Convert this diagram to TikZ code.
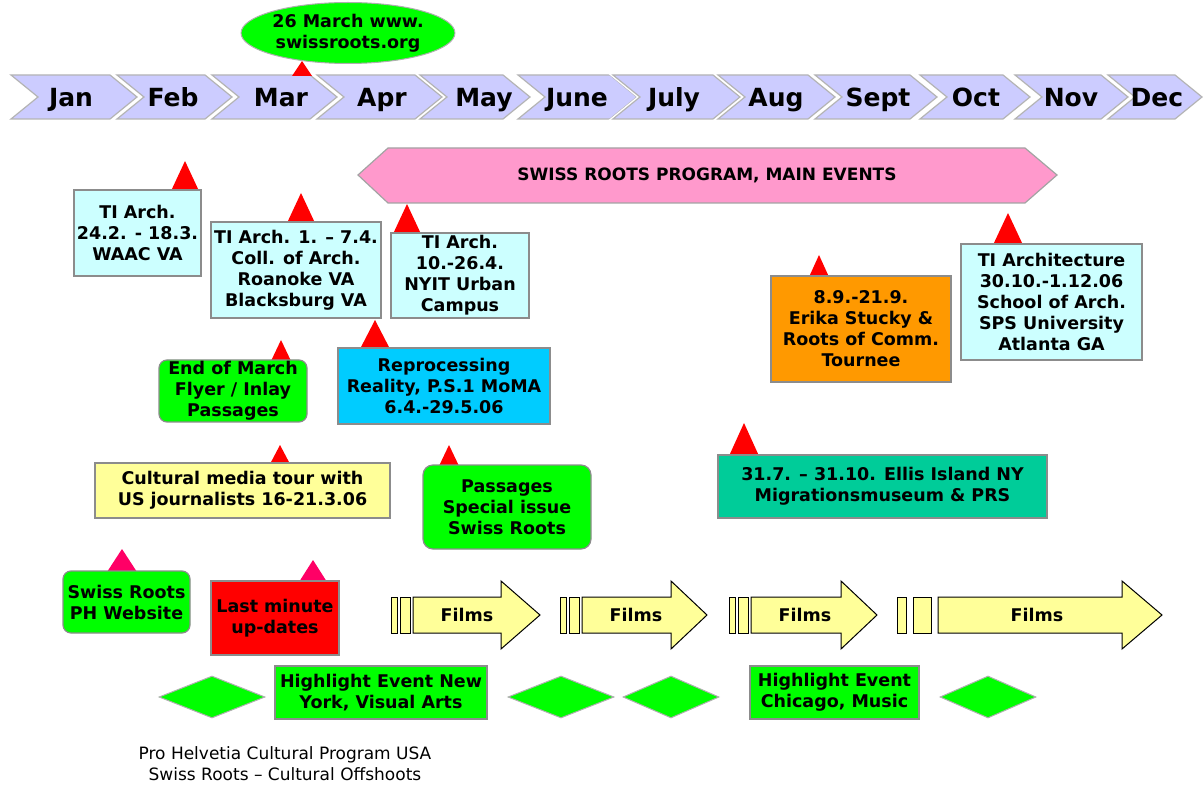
\documentclass[tikz,border=0pt]{standalone}
\usepackage{fontspec}
\setmainfont{DejaVu Sans}
\usetikzlibrary{shapes.geometric}
\definecolor{monthc}{HTML}{CCCCFF}
\definecolor{monthb}{HTML}{B4B4B4}
\definecolor{boxb}{HTML}{8C8C8C}
\definecolor{cyanc}{HTML}{CCFFFF}
\definecolor{greenc}{HTML}{00FF00}
\definecolor{bluec}{HTML}{00CCFF}
\definecolor{yellowc}{HTML}{FFFF99}
\definecolor{orangec}{HTML}{FF9900}
\definecolor{tealc}{HTML}{00CC99}
\definecolor{pinkc}{HTML}{FF99CC}
\definecolor{redc}{HTML}{FF0000}
\definecolor{magc}{HTML}{FF0066}
\newcommand\chev[5]{% name, left x, tip x, label, label x
  \draw[white, line width=4pt, line join=miter] (#2,75) -- (#3-27,75) -- (#3,97) -- (#3-27,119) -- (#2,119) -- (#2+27,97) -- cycle;
  \draw[monthbox] (#2,75) -- (#3-27,75) -- (#3,97) -- (#3-27,119) -- (#2,119) -- (#2+27,97) -- cycle;
  \node[monthtxt] (#1) at (#5,107) {#4};}
\newcommand\evtri[5]{% apex x, apex y, base y, half width, colour
  \fill[#5] (#1,#2) -- (#1-#4,#3) -- (#1+#4,#3) -- cycle;}
\newcommand\filmarrow[9]{% name, b1l, b1r, b2l, b2r, body l, head x, tip x, text x
  \draw[filmline] (#2,597) rectangle (#3,633);
  \draw[filmline] (#4,597) rectangle (#5,633);
  \draw[filmline] (#6,597) -- (#7,597) -- (#7,581) -- (#8,615) -- (#7,649) -- (#7,633) -- (#6,633) -- cycle;
  \node[evtxt] (#1) at (#9,615) {Films};}
\begin{document}
\begin{tikzpicture}[x=1pt,y=-1pt,
  monthbox/.style={fill=monthc, draw=monthb, line width=1.2pt, line join=miter},
  monthtxt/.style={font=\bfseries\fontsize{25}{28}\selectfont, inner sep=0pt, anchor=base},
  evtxt/.style={font=\bfseries\fontsize{17.5}{21}\selectfont, align=center, inner sep=0pt},
  evbox/.style={evtxt, draw=boxb, line width=1.2pt},
  filmline/.style={fill=yellowc, draw=black, line width=1pt, line join=miter},
  dia/.style={diamond, fill=greenc, draw=boxb!70, line width=1pt, inner sep=0pt, minimum width=106pt, minimum height=42pt}
]
\useasboundingbox (0,0) rectangle (1203,786);

% months
\chev{jan}{11}{137}{Jan}{71}
\chev{feb}{117}{232}{Feb}{173}
\chev{mar}{212}{337}{Mar}{281}
\chev{apr}{317}{442}{Apr}{382}
\chev{may}{420}{530}{May}{484}
\chev{jun}{518}{637}{June}{577}
\chev{jul}{613}{740}{July}{674}
\chev{aug}{718}{835}{Aug}{776}
\chev{sep}{815}{937}{Sept}{878}
\chev{oct}{920}{1030}{Oct}{976}
\chev{nov}{1015}{1128}{Nov}{1071}
\chev{dec}{1108}{1202}{Dec}{1157}

% web ellipse
\evtri{302}{61}{76}{10}{redc}
\node[ellipse, fill=greenc, draw=boxb!70, line width=1pt, minimum width=210pt, minimum height=61pt, evtxt] (web) at (348,33) {26 March www.\\swissroots.org};

% banner
\draw[fill=pinkc, draw=boxb!80, line width=1.2pt] (358,175) -- (388,148) -- (1025,148) -- (1057,175) -- (1025,203) -- (388,203) -- cycle;
\node[evtxt, font=\bfseries\fontsize{17}{21}\selectfont] (banner) at (707,175) {SWISS ROOTS PROGRAM, MAIN EVENTS};

% triangles
\evtri{185}{161}{191}{14}{redc}
\evtri{301}{193}{223}{14}{redc}
\evtri{407}{204}{234}{14}{redc}
\evtri{281}{340}{361}{10}{redc}
\evtri{375}{320}{349}{15}{redc}
\evtri{280}{445}{464}{10}{redc}
\evtri{449}{445}{466}{10}{redc}
\evtri{819}{255}{277}{10}{redc}
\evtri{1008}{213}{245}{15}{redc}
\evtri{744}{423}{456}{15}{redc}
\evtri{122}{549}{572}{15}{magc}
\evtri{313}{560}{582}{14}{magc}

% event boxes
\node[evbox, fill=cyanc, minimum width=127pt, minimum height=86pt] (waac) at (137.5,233) {TI Arch.\\24.2. - 18.3.\\WAAC VA};
\node[evbox, fill=cyanc, minimum width=170pt, minimum height=96pt] (coll) at (296,270) {TI Arch. 1. -- 7.4.\\Coll. of Arch.\\Roanoke VA\\Blacksburg VA};
\node[evbox, fill=cyanc, minimum width=138pt, minimum height=85pt] (nyit) at (460,275.5) {TI Arch.\\10.-26.4.\\NYIT Urban\\Campus};
\node[evbox, fill=greenc, rounded corners=8pt, minimum width=148pt, minimum height=62pt] (eom) at (233,391) {End of March\\Flyer / Inlay\\Passages};
\node[evbox, fill=bluec, minimum width=212pt, minimum height=76pt] (repro) at (444,386) {Reprocessing\\Reality, P.S.1 MoMA\\6.4.-29.5.06};
\node[evbox, fill=yellowc, minimum width=295pt, minimum height=55pt] (cult) at (242.5,490.5) {Cultural media tour with\\US journalists 16-21.3.06};
\node[evbox, fill=greenc, rounded corners=10pt, minimum width=168pt, minimum height=84pt] (pass) at (507,507) {Passages\\Special issue\\Swiss Roots};
\node[evbox, fill=orangec, minimum width=180pt, minimum height=106pt] (stucky) at (861,329) {8.9.-21.9.\\Erika Stucky \&\\Roots of Comm.\\Tournee};
\node[evbox, fill=cyanc, minimum width=181pt, minimum height=116pt] (atl) at (1051.5,302) {TI Architecture\\30.10.-1.12.06\\School of Arch.\\SPS University\\Atlanta GA};
\node[evbox, fill=tealc, minimum width=329pt, minimum height=63pt] (ellis) at (882.5,486.5) {31.7. -- 31.10. Ellis Island NY\\Migrationsmuseum \& PRS};
\node[evbox, fill=greenc, rounded corners=8pt, minimum width=127pt, minimum height=62pt] (phweb) at (126.5,602) {Swiss Roots\\PH Website};
\node[evbox, fill=redc, minimum width=128pt, minimum height=74pt] (lastmin) at (275,618) {Last minute\\up-dates};

% films
\filmarrow{f1}{391}{397}{400}{410}{413}{501}{540}{467}
\filmarrow{f2}{560}{566}{569}{579}{582}{671}{707}{636}
\filmarrow{f3}{729}{735}{738}{748}{751}{841}{877}{805}
\filmarrow{f4}{897}{906}{913}{931}{938}{1122}{1162}{1037}

% highlights
\node[dia] (d1) at (212,697) {};
\node[dia] (d2) at (561,697) {};
\node[dia, minimum width=96pt] (d3) at (671,697) {};
\node[dia, minimum width=96pt] (d4) at (988,697) {};
\node[evbox, fill=greenc, minimum width=212pt, minimum height=53pt] (hny) at (381,692.5) {Highlight Event New\\York, Visual Arts};
\node[evbox, fill=greenc, minimum width=169pt, minimum height=53pt] (hchi) at (834.5,692.5) {Highlight Event\\Chicago, Music};

% footer
\node[align=center, inner sep=0pt, font=\fontsize{17}{21}\selectfont] (footer) at (285,764) {Pro Helvetia Cultural Program USA\\Swiss Roots -- Cultural Offshoots};
\end{tikzpicture}
\end{document}
